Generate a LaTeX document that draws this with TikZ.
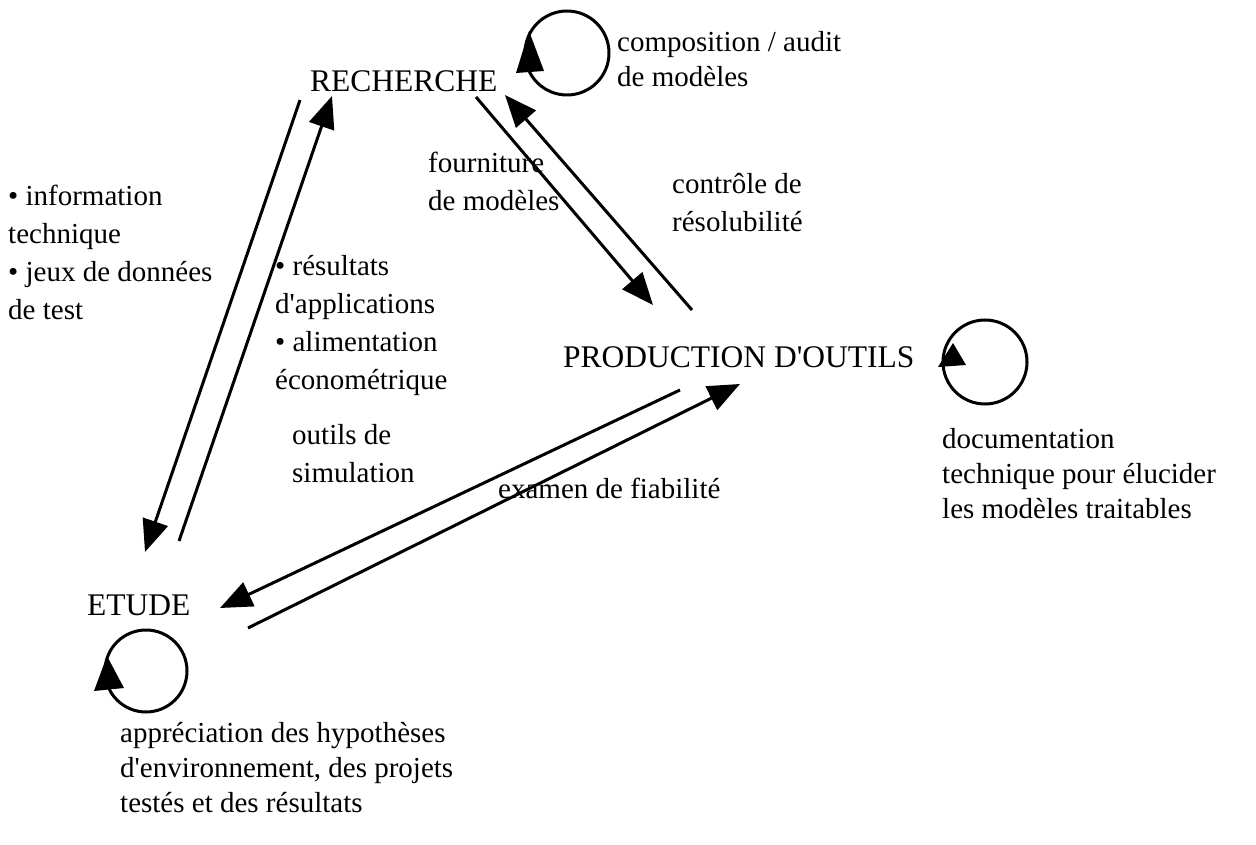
\documentclass[tikz,border=0pt]{standalone}
\usepackage{fontspec}
\setmainfont{Liberation Serif}
\newfontfamily\rawfont{Liberation Serif}
\usetikzlibrary{arrows.meta}
\newcommand{\apos}{{\rawfont'}}
\begin{document}
\begin{tikzpicture}[x=1pt,y=-1pt,
  lbl/.style={inner sep=0pt,anchor=north west,align=left,font=\fontsize{29}{38}\selectfont},
  lbltight/.style={lbl,font=\fontsize{29}{35}\selectfont},
  capslbl/.style={inner sep=0pt,anchor=base west,font=\fontsize{31.5}{38}\selectfont},
  conn/.style={line width=3pt,-{Triangle[length=32pt,width=26pt]}},
  loopc/.style={line width=3pt},
  loophead/.style={fill=black}]
\useasboundingbox (0,0) rectangle (1256,845);
% main labels
\node[capslbl] (rech) at (310,92) {RECHERCHE};
\node[capslbl] (prod) at (563,367) {PRODUCTION D\apos OUTILS};
\node[capslbl] (etude) at (87,615) {ETUDE};
% connector endpoints
\coordinate (a1s) at (300,100); \coordinate (a1e) at (145,552);
\coordinate (a2s) at (179,541); \coordinate (a2e) at (332,96);
\coordinate (a3s) at (476,97);  \coordinate (a3e) at (653,305);
\coordinate (a4s) at (692,310); \coordinate (a4e) at (505,95);
\coordinate (a5s) at (680,390); \coordinate (a5e) at (220,608);
\coordinate (a6s) at (248,628); \coordinate (a6e) at (740,384);
\draw[conn] (a1s) -- (a1e);
\draw[conn] (a2s) -- (a2e);
\draw[conn] (a3s) -- (a3e);
\draw[conn] (a4s) -- (a4e);
\draw[conn] (a5s) -- (a5e);
\draw[conn] (a6s) -- (a6e);
% loops
\draw[loopc] (567,53) circle[radius=42];
\fill[loophead] (529,31) -- (516,73) -- (544,71) -- cycle;
\draw[loopc] (985,362) circle[radius=42];
\fill[loophead] (953,343) -- (938,367) -- (966,365) -- cycle;
\draw[loopc] (146,671) circle[radius=41];
\fill[loophead] (107,656) -- (94,691) -- (124,688) -- cycle;
% labels
\node[lbltight] (l1) at (617,31) {composition / audit\\de modèles};
\node[lbl] (l2) at (428,152) {fourniture\\de modèles};
\node[lbl] (l3) at (672,173) {contrôle de\\résolubilité};
\node[lbl] (l4) at (8,185) {• information\\technique\\• jeux de données\\de test};
\node[lbl] (l5) at (275,255) {• résultats\\d\apos applications\\• alimentation\\économétrique};
\node[lbl] (l6) at (292,424) {outils de\\simulation};
\node[lbl,anchor=base west] (l7) at (498,498) {examen de fiabilité};
\node[lbltight] (l8) at (942,428) {documentation\\technique pour élucider\\les modèles traitables};
\node[lbltight] (l9) at (120,722) {appréciation des hypothèses\\d\apos environnement, des projets\\testés et des résultats};
\end{tikzpicture}
\end{document}
